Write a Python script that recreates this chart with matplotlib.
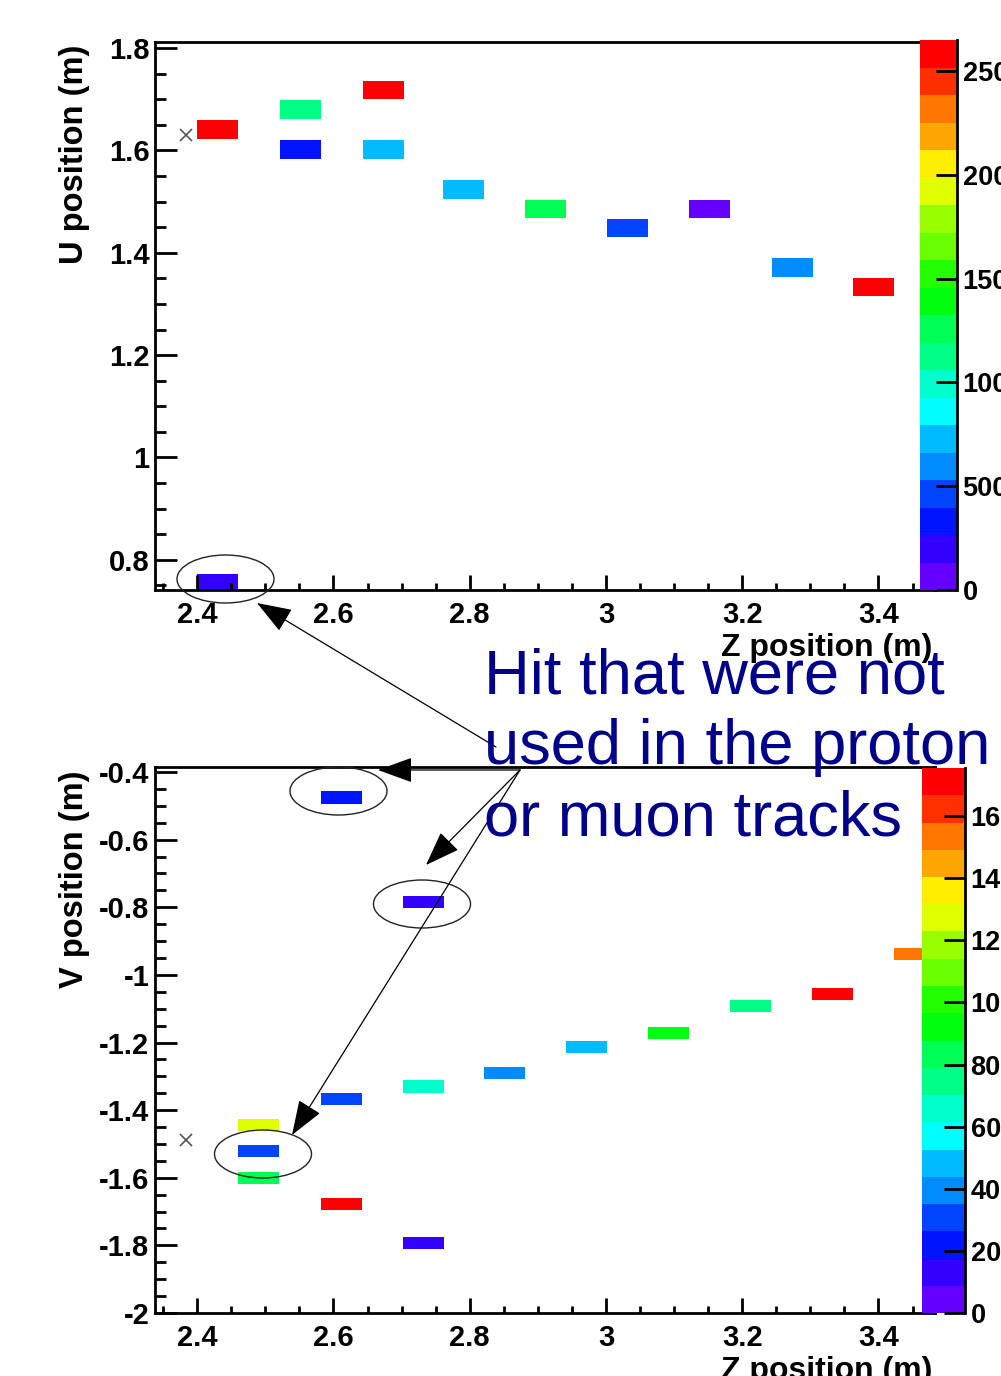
import colorsys
import numpy as np
import matplotlib
matplotlib.use("Agg")
import matplotlib.pyplot as plt
from matplotlib.colors import ListedColormap, BoundaryNorm
from matplotlib.patches import Ellipse
from matplotlib.ticker import MultipleLocator

plt.rcParams['font.family'] = ['Liberation Sans', 'DejaVu Sans']

# U view hits : z (m), U (m), charge
u_z = [2.430, 2.551, 2.551, 2.673, 2.673, 2.791, 2.911, 3.031, 3.152, 3.274, 3.393, 2.430]
u_pos = [1.641, 1.680, 1.602, 1.718, 1.602, 1.524, 1.486, 1.449, 1.486, 1.371, 1.333, 0.755]
u_q = [2580, 1130, 330, 2600, 730, 720, 1260, 460, 60, 600, 2560, 200]

# V view hits
v_z = [2.612, 2.732, 3.453, 3.332, 3.212, 3.092, 2.971, 2.851, 2.732, 2.612,
       2.490, 2.490, 2.490, 2.612, 2.732]
v_pos = [-0.475, -0.784, -0.937, -1.057, -1.092, -1.173, -1.212, -1.289, -1.330, -1.367,
         -1.445, -1.520, -1.600, -1.677, -1.793]
v_q = [22, 13, 154, 171, 75, 92, 48, 39, 66, 31, 127, 30, 83, 170, 13]

# vertex
vtx_z = 2.384
vtx_u = 1.631
vtx_v = -1.489

u_zmax = 2650
v_zmax = 175.5
u_cticks = [0, 500, 1000, 1500, 2000, 2500]
v_cticks = [0, 20, 40, 60, 80, 100, 120, 140, 160]

note_lines = ["Hit that were not", "used in the proton", "or muon tracks"]

hit_w = 0.06
hit_h = 0.036
W, H = 1001, 1376

# ROOT "pretty" palette, 20 contours
cols = []
for k in range(20):
    idx = int((k + 0.99) * 50 / 20)
    hue = 280 - (idx + 1) * 5.6
    cols.append(colorsys.hls_to_rgb(max(hue, 0) / 360.0, 0.5, 1.0))
cmap = ListedColormap(cols)


def fr(x0, y0, x1, y1):
    return [x0 / W, 1 - y1 / H, (x1 - x0) / W, (y1 - y0) / H]


fig = plt.figure(figsize=(W / 100, H / 100), dpi=100)


def panel(rect, crect, zs, ps, qs, zmax, cticks, ylim, vy, ylabel, ylab_y):
    ax = fig.add_axes(fr(*rect))
    norm = BoundaryNorm(np.linspace(0, zmax, 21), 20)
    for z, p, q in zip(zs, ps, qs):
        ax.bar(z, hit_h, bottom=p - hit_h / 2, width=hit_w, color=cmap(norm(q)),
               edgecolor='none')
    ax.plot([vtx_z], [vy], marker='x', color='#555555', ms=9, mew=1.2, ls='none')
    ax.set_xlim(2.338, 3.483)
    ax.set_ylim(*ylim)
    ax.xaxis.set_major_locator(MultipleLocator(0.2))
    ax.xaxis.set_minor_locator(MultipleLocator(0.05))
    ax.yaxis.set_major_locator(MultipleLocator(0.2))
    ax.yaxis.set_minor_locator(MultipleLocator(0.05))
    ax.xaxis.set_major_formatter(plt.FuncFormatter(lambda v, p: ('%g' % round(v, 2))))
    ax.yaxis.set_major_formatter(plt.FuncFormatter(lambda v, p: ('%g' % round(v, 2))))
    ax.tick_params(axis='y', which='major', direction='in', length=16, width=2,
                   labelsize=21, pad=4)
    ax.tick_params(axis='y', which='minor', direction='in', length=8, width=2)
    ax.tick_params(axis='x', which='major', direction='in', length=11, width=2,
                   labelsize=21, pad=8)
    ax.tick_params(axis='x', which='minor', direction='in', length=5, width=2)
    for lab in ax.get_xticklabels() + ax.get_yticklabels():
        lab.set_fontweight('bold')
    for s in ax.spines.values():
        s.set_linewidth(2)
    fig.text(75 / W, 1 - ylab_y / H, ylabel, rotation=90, ha='center', va='top',
             fontsize=23.5, fontweight='bold')
    zl_y = rect[3] + 58
    fig.text(932 / W, 1 - zl_y / H, "Z position (m)", ha='right', va='center',
             fontsize=23, fontweight='bold')

    cax = fig.add_axes(fr(*crect))
    sm = plt.cm.ScalarMappable(norm=norm, cmap=cmap)
    cb = fig.colorbar(sm, cax=cax, ticks=cticks)
    cb.outline.set_visible(False)
    cax.plot([1, 1], [0, 1], transform=cax.transAxes, color='k', lw=2, clip_on=False)
    cax.tick_params(which='major', direction='in', length=15, width=2, labelsize=19.5, pad=4)
    cax.minorticks_off()
    for lab in cax.get_yticklabels():
        lab.set_fontweight('bold')
    return ax


panel((155, 42, 935, 590), (920, 40, 957, 590), u_z, u_pos, u_q, u_zmax, u_cticks,
      (0.741, 1.812), vtx_u, "U position (m)", 45)
panel((155, 767, 935, 1313), (922, 768, 965, 1313), v_z, v_pos, v_q, v_zmax, v_cticks,
      (-2.0, -0.385), vtx_v, "V position (m)", 770)

# annotation overlay in pixel coordinates
ov = fig.add_axes([0, 0, 1, 1], zorder=10)
ov.set_xlim(0, W)
ov.set_ylim(H, 0)
ov.axis('off')
ov.patch.set_alpha(0)

rings = [(225.5, 579), (338.5, 791), (422, 904), (263, 1154)]
for cx, cy in rings:
    ov.add_patch(Ellipse((cx, cy), 97, 48, fill=False, ec='#222222', lw=1))

arrows = [((496, 747), (257, 603)), ((520, 770), (378, 770)),
          ((520, 770), (426, 865)), ((520, 770), (292, 1135))]
for start, tip in arrows:
    ov.annotate("", xy=tip, xytext=start,
                arrowprops=dict(arrowstyle='-|>,head_length=1.1,head_width=0.4',
                                mutation_scale=20, lw=0.9, color='black',
                                shrinkA=0, shrinkB=0))

for i, line in enumerate(note_lines):
    ov.text(484, 693 + i * 71, line, color='#00008b', fontsize=45.5,
            ha='left', va='baseline')

fig.savefig("out.png", dpi=100)
